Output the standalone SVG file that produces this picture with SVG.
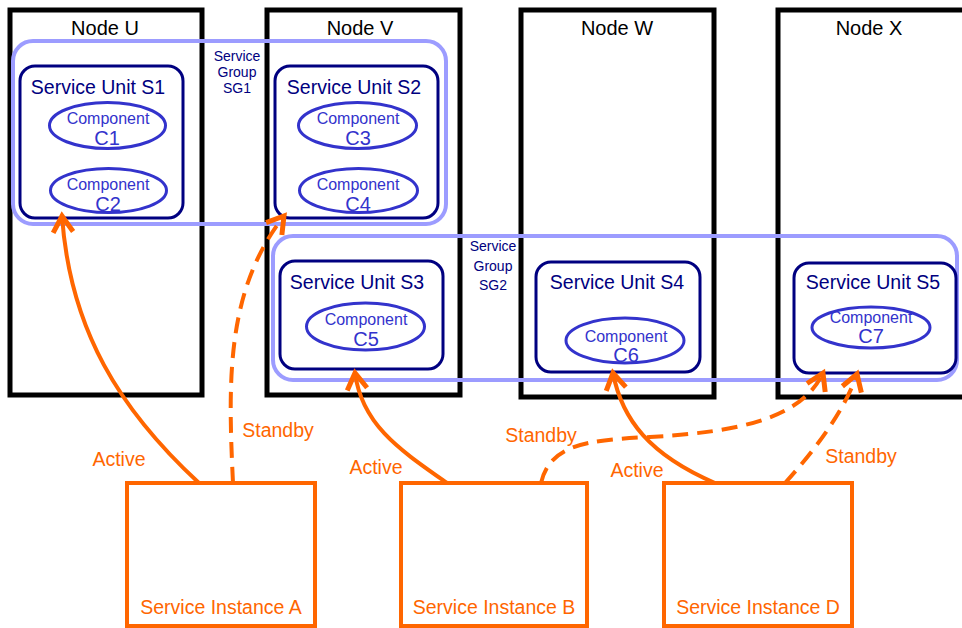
<svg xmlns="http://www.w3.org/2000/svg" width="962" height="628" viewBox="0 0 962 628">
<style>
  text { font-family: "Liberation Sans", Arial, sans-serif; }
  .node { fill: #ffffff; stroke: #000000; stroke-width: 5; }
  .nlabel { font-size: 20px; fill: #000000; text-anchor: middle; }
  .sg { fill: none; stroke: #9c9cff; stroke-width: 4; }
  .sglabel { font-size: 14px; fill: #000080; text-anchor: middle; }
  .su { fill: none; stroke: #000080; stroke-width: 3; }
  .sulabel { font-size: 19.5px; fill: #000080; text-anchor: middle; }
  .comp { fill: none; stroke: #3333cc; stroke-width: 3; }
  .clabel { font-size: 16px; fill: #3333cc; text-anchor: middle; }
  .cname { font-size: 20px; fill: #3333cc; text-anchor: middle; }
  .si { fill: #ffffff; stroke: #ff6600; stroke-width: 4; }
  .silabel { font-size: 19.5px; fill: #ff6600; text-anchor: middle; }
  .edge { fill: none; stroke: #ff6600; stroke-width: 4; marker-end: url(#arrow); }
  .dash { stroke-dasharray: 16 9; }
  .elabel { font-size: 19.5px; fill: #ff6600; text-anchor: middle; }
</style>
<defs>
  <marker id="arrow" markerUnits="userSpaceOnUse" markerWidth="30" markerHeight="30" viewBox="-16 -12 20 24" refX="0" refY="0" orient="auto">
    <path d="M-13,-8 L0,0 L-13,8" fill="none" stroke="#ff6600" stroke-width="4"/>
  </marker>
</defs>
<rect x="0" y="0" width="962" height="628" fill="#ffffff"/>

<g id="node-u"><rect class="node" x="10" y="10" width="192" height="385"/><text class="nlabel" x="105" y="35">Node U</text></g>
<g id="node-v"><rect class="node" x="267" y="10" width="193" height="385"/><text class="nlabel" x="360" y="35">Node V</text></g>
<g id="node-w"><rect class="node" x="521" y="10" width="193" height="387"/><text class="nlabel" x="617" y="35">Node W</text></g>
<g id="node-x"><rect class="node" x="778" y="10" width="193" height="387"/><text class="nlabel" x="869" y="35">Node X</text></g>

<g id="sg1"><rect class="sg" x="13" y="41" width="433" height="183" rx="20"/>
  <text class="sglabel" x="237" y="61">Service</text><text class="sglabel" x="237" y="77">Group</text><text class="sglabel" x="237" y="93">SG1</text></g>
<g id="sg2"><rect class="sg" x="273" y="236" width="684" height="144" rx="20"/>
  <text class="sglabel" x="493" y="251">Service</text><text class="sglabel" x="493" y="271">Group</text><text class="sglabel" x="493" y="290">SG2</text></g>

<g id="su-s1"><rect class="su" x="20" y="66" width="163" height="152" rx="15"/><text class="sulabel" x="98" y="94">Service Unit S1</text></g>
<g id="su-s2"><rect class="su" x="275" y="66" width="163" height="152" rx="15"/><text class="sulabel" x="354" y="94">Service Unit S2</text></g>
<g id="su-s3"><rect class="su" x="280" y="261" width="163" height="108" rx="15"/><text class="sulabel" x="357" y="289">Service Unit S3</text></g>
<g id="su-s4"><rect class="su" x="536" y="262" width="164" height="110" rx="15"/><text class="sulabel" x="617" y="289">Service Unit S4</text></g>
<g id="su-s5"><rect class="su" x="794" y="263" width="162" height="110" rx="15"/><text class="sulabel" x="873" y="289">Service Unit S5</text></g>

<g id="comp-c1"><ellipse class="comp" cx="107.5" cy="125.5" rx="58" ry="23"/><text class="clabel" x="108" y="124">Component</text><text class="cname" x="107" y="145">C1</text></g>
<g id="comp-c2"><ellipse class="comp" cx="108.5" cy="190.5" rx="58" ry="22"/><text class="clabel" x="108" y="190">Component</text><text class="cname" x="108" y="211">C2</text></g>
<g id="comp-c3"><ellipse class="comp" cx="357.5" cy="125.5" rx="59" ry="23"/><text class="clabel" x="358" y="124">Component</text><text class="cname" x="358" y="145">C3</text></g>
<g id="comp-c4"><ellipse class="comp" cx="358.5" cy="190.5" rx="59" ry="22"/><text class="clabel" x="358" y="190">Component</text><text class="cname" x="358" y="211">C4</text></g>
<g id="comp-c5"><ellipse class="comp" cx="365.5" cy="326.5" rx="59" ry="23.5"/><text class="clabel" x="366" y="325">Component</text><text class="cname" x="366" y="346">C5</text></g>
<g id="comp-c6"><ellipse class="comp" cx="625" cy="340.5" rx="59" ry="22.5"/><text class="clabel" x="626" y="342">Component</text><text class="cname" x="626" y="362">C6</text></g>
<g id="comp-c7"><ellipse class="comp" cx="871" cy="327.5" rx="59" ry="20.5"/><text class="clabel" x="871" y="323">Component</text><text class="cname" x="871" y="343">C7</text></g>

<g id="si-a"><rect class="si" x="127" y="483" width="188" height="143"/><text class="silabel" x="221" y="614">Service Instance A</text></g>
<g id="si-b"><rect class="si" x="401" y="483" width="186" height="143"/><text class="silabel" x="494" y="614">Service Instance B</text></g>
<g id="si-d"><rect class="si" x="664" y="483" width="188" height="143"/><text class="silabel" x="758" y="614">Service Instance D</text></g>

<g id="connectors">
  <path class="edge" d="M199,483 C120,410 70,330 62,216"/>
  <path class="edge dash" d="M233,483 C228,380 226,290 284,216"/>
  <path class="edge" d="M447,483 C400,450 362,425 355,373"/>
  <path class="edge dash" d="M541,483 C550,445 585,440 650,437 C740,432 802,418 823,373"/>
  <path class="edge" d="M715,483 C650,455 622,420 613,373"/>
  <path class="edge dash" d="M785,483 C815,450 845,410 857,374"/>
  <text class="elabel" x="119" y="466">Active</text>
  <text class="elabel" x="278" y="437">Standby</text>
  <text class="elabel" x="376" y="474">Active</text>
  <text class="elabel" x="541" y="442">Standby</text>
  <text class="elabel" x="637" y="477">Active</text>
  <text class="elabel" x="861" y="463">Standby</text>
</g>
</svg>
